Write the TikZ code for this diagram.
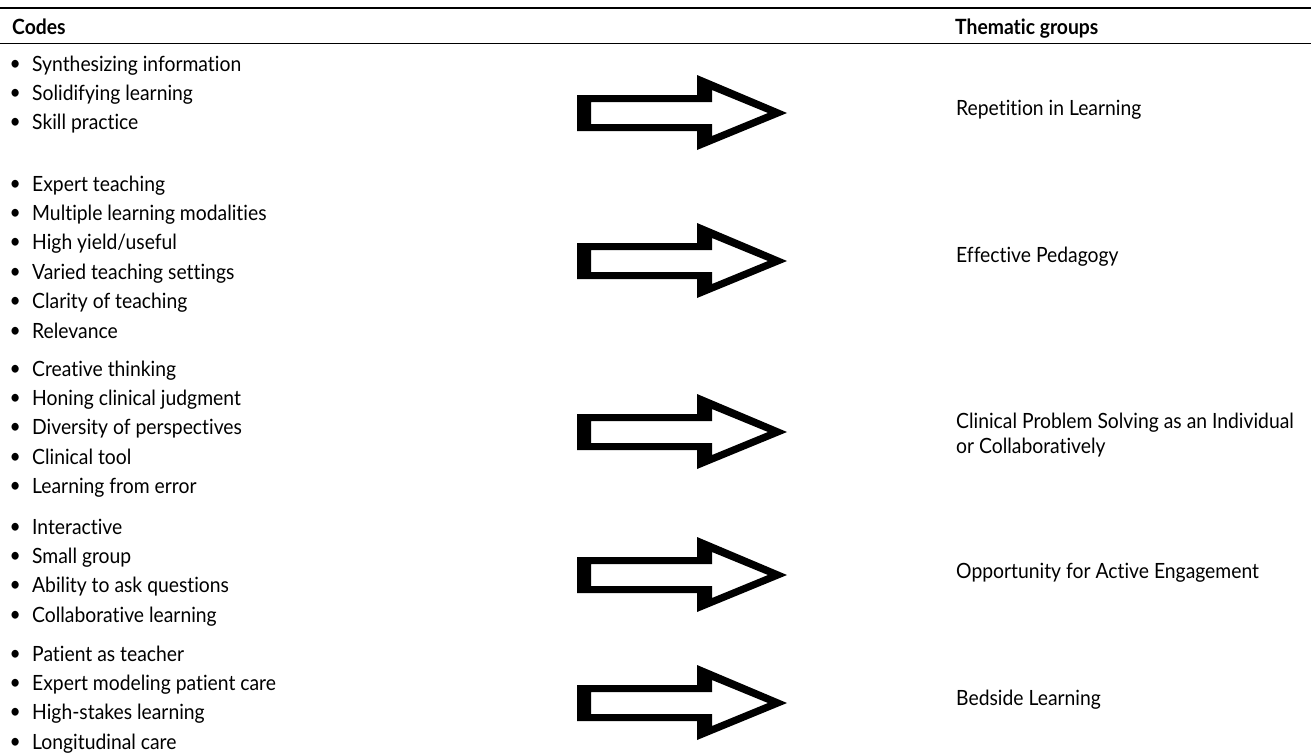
\documentclass[tikz,border=0pt]{standalone}
\usepackage{fontspec}
\setmainfont{Lato}[FakeStretch=0.92,Ligatures=NoCommon]
\newcommand\fatarrow[2]{%
  \begin{scope}[shift={(0,#2)}]
    \fill[black,even odd rule]
      (577,-18) -- (697,-18) -- (697,-38) -- (787,0) -- (697,37) -- (697,18) -- (577,18) -- cycle
      (591,-11) -- (712,-11) -- (712,-23) -- (768,0) -- (712,23) -- (712,11) -- (591,11) -- cycle;
    \coordinate (#1) at (682,0);
  \end{scope}}
\newcommand\codelist[3]{%
  \foreach \t [count=\i] in {#3} {
    \node[code] (#1-\i) at (32,{#2+(\i-1)*29.4}) {\llap{\makebox[34pt]{\raisebox{1pt}{•}}}\t};
  }}
\begin{document}
\begin{tikzpicture}[x=1pt,y=-1pt,
  code/.style={anchor=base west, inner sep=0pt, font=\fontsize{21}{25}\selectfont},
  theme/.style={anchor=base west, inner sep=0pt, font=\fontsize{21}{25}\selectfont},
  head/.style={anchor=base west, inner sep=0pt, font=\fontsize{21}{25}\selectfont\bfseries}]
\useasboundingbox (0,0) rectangle (1311,753);
\fill[white] (0,0) rectangle (1311,753);
% header rules
\draw[line width=2pt] (0,8) -- (1311,8);
\draw[line width=1pt] (0,43) -- (1311,43);
\node[head] (hcodes) at (12,34) {Codes};
\node[head] (htheme) at (955,34) {Thematic groups};
% codes
\codelist{g1}{71}{Synthesizing information,Solidifying learning,Skill practice}
\codelist{g2}{191}{Expert teaching,Multiple learning modalities,High yield/useful,Varied teaching settings,Clarity of teaching,Relevance}
\codelist{g3}{376}{Creative thinking,Honing clinical judgment,Diversity of perspectives,Clinical tool,Learning from error}
\codelist{g4}{534}{Interactive,Small group,Ability to ask questions,Collaborative learning}
\codelist{g5}{661}{Patient as teacher,Expert modeling patient care,High-stakes learning,Longitudinal care}
% arrows
\fatarrow{a1}{113}
\fatarrow{a2}{261}
\fatarrow{a3}{432}
\fatarrow{a4}{575}
\fatarrow{a5}{703}
% themes
\node[theme] (t1) at (956,115) {Repetition in Learning};
\node[theme] (t2) at (956,262) {Effective Pedagogy};
\node[theme] (t3a) at (956,428) {Clinical Problem Solving as an Individual};
\node[theme] (t3b) at (956,453) {or Collaboratively};
\node[theme] (t4) at (956,578) {Opportunity for Active Engagement};
\node[theme] (t5) at (956,705) {Bedside Learning};
\end{tikzpicture}
\end{document}
